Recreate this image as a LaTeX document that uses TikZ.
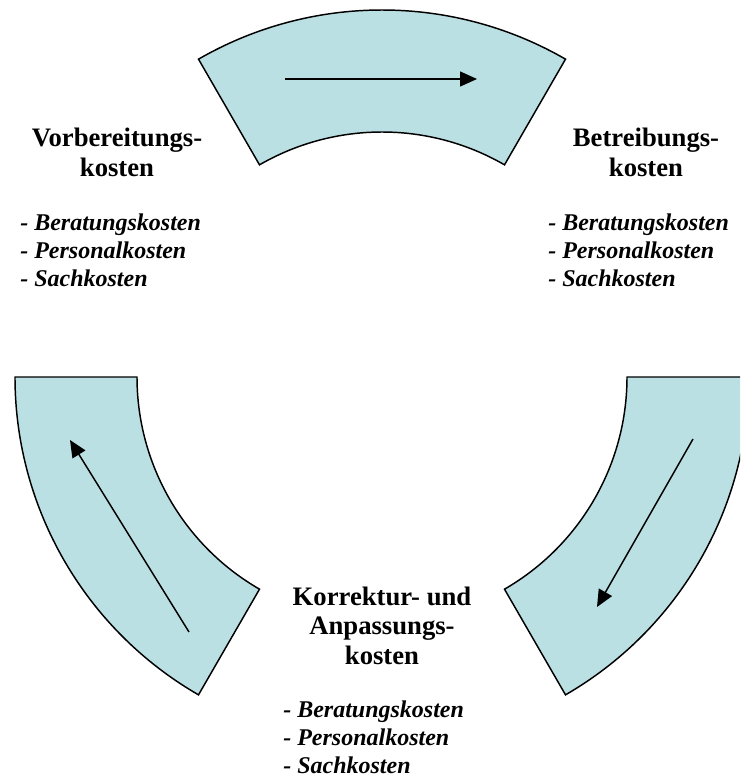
\documentclass[tikz,border=0pt]{standalone}
\usepackage{fontspec}
\setmainfont{Liberation Serif}
\usetikzlibrary{arrows.meta}
\definecolor{secfill}{HTML}{BBE0E3}
\begin{document}
\begin{tikzpicture}[x=0.75pt,y=0.75pt,
  sector/.style={draw=black,fill=secfill,line width=1.1pt,line join=miter},
  flow/.style={draw=black,line width=1.1pt,-{Triangle[length=12.75pt,width=11.25pt]}},
  title/.style={font=\fontsize{20}{22.1}\selectfont\bfseries,align=center,anchor=base,inner sep=0pt},
  items/.style={font=\fontsize{18}{20.8}\selectfont\bfseries\itshape,align=left,anchor=base west,inner sep=0pt}]
\useasboundingbox (0,0) rectangle (740,-778);
\clip (0,0) rectangle (740,-778);
\coordinate (c) at (382,-377);
% sectors
\draw[sector] ([shift={(c)}]60:275.25pt) arc[start angle=60,end angle=120,radius=275.25pt]
  -- ([shift={(c)}]120:183.75pt) arc[start angle=120,end angle=60,radius=183.75pt] -- cycle;
\draw[sector] ([shift={(c)}]180:275.25pt) arc[start angle=180,end angle=240,radius=275.25pt]
  -- ([shift={(c)}]240:183.75pt) arc[start angle=240,end angle=180,radius=183.75pt] -- cycle;
\draw[sector] ([shift={(c)}]300:275.25pt) arc[start angle=300,end angle=360,radius=275.25pt]
  -- ([shift={(c)}]0:183.75pt) arc[start angle=360,end angle=300,radius=183.75pt] -- cycle;
% arrows
\coordinate (t1) at (285,-79);
\coordinate (t2) at (477,-79);
\coordinate (l1) at (189,-632);
\coordinate (l2) at (70,-440);
\coordinate (r1) at (693,-439);
\coordinate (r2) at (597,-607);
\draw[flow] (t1) -- (t2);
\draw[flow] (l1) -- (l2);
\draw[flow] (r1) -- (r2);
% texts (base anchor = baseline of last line)
\node[title] (vt) at (117,-176) {Vorbereitungs-\\kosten};
\node[items] (vi) at (20,-286) {- Beratungskosten\\- Personalkosten\\- Sachkosten};
\node[title] (bt) at (646,-176) {Betreibungs-\\kosten};
\node[items] (bi) at (548,-286) {- Beratungskosten\\- Personalkosten\\- Sachkosten};
\node[title] (kt) at (382,-664) {Korrektur- und\\Anpassungs-\\kosten};
\node[items] (ki) at (283,-773) {- Beratungskosten\\- Personalkosten\\- Sachkosten};
\end{tikzpicture}
\end{document}
